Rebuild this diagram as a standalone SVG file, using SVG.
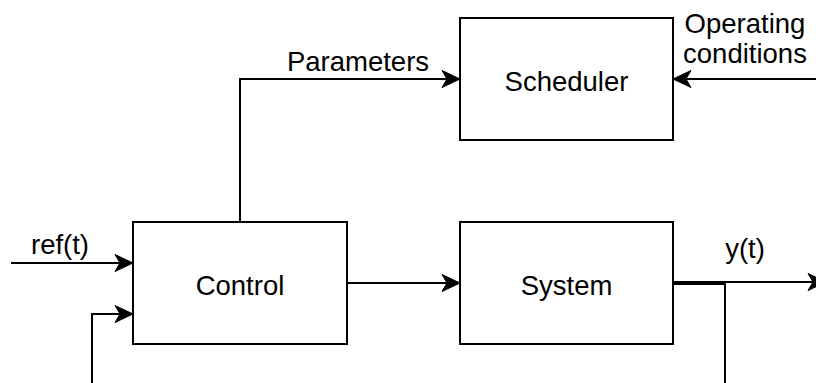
<svg xmlns="http://www.w3.org/2000/svg" width="816" height="383" viewBox="0 0 816 383">
  <style>
    .block { fill: #ffffff; stroke: #000000; stroke-width: 2; }
    .wire { fill: none; stroke: #000000; stroke-width: 2; }
    .label { font-family: "Liberation Sans", Arial, sans-serif; font-size: 27.5px; fill: #000000; }
    .mid { text-anchor: middle; }
  </style>
  <defs>
    <!-- classic arrowhead; tip sits 13px past the end of the wire -->
    <marker id="arrow" markerUnits="userSpaceOnUse" markerWidth="40" markerHeight="40"
            refX="0" refY="0" orient="auto" overflow="visible" viewBox="-20 -20 40 40">
      <path d="M13,0 L-5,-8.5 L0,0 L-5,8.5 Z" fill="#000000" stroke="#000000" stroke-width="1" stroke-linejoin="miter"/>
    </marker>
  </defs>

  <rect width="816" height="383" fill="#ffffff"/>

  <g id="connectors">
    <!-- reference input -->
    <path class="wire" d="M11,263 H120" marker-end="url(#arrow)"/>
    <!-- feedback from plant output back into the controller -->
    <path class="wire" d="M673,284 H725 V400 H92 V314 H120" marker-end="url(#arrow)"/>
    <!-- control signal to the plant -->
    <path class="wire" d="M347,283 H447" marker-end="url(#arrow)"/>
    <!-- controller parameters to the scheduler -->
    <path class="wire" d="M240,222 V79 H447" marker-end="url(#arrow)"/>
    <!-- operating conditions into the scheduler -->
    <path class="wire" d="M830,79 H686" marker-end="url(#arrow)"/>
    <!-- plant output -->
    <path class="wire" d="M673,282 H813" marker-end="url(#arrow)"/>
  </g>

  <g id="scheduler">
    <rect class="block" x="460" y="18" width="213" height="122"/>
    <text class="label mid" x="566.5" y="91">Scheduler</text>
  </g>

  <g id="control">
    <rect class="block" x="133" y="222" width="214" height="122"/>
    <text class="label mid" x="240" y="294.5">Control</text>
  </g>

  <g id="system">
    <rect class="block" x="460" y="222" width="213" height="122"/>
    <text class="label mid" x="566.5" y="294.5">System</text>
  </g>

  <g id="labels">
    <text class="label mid" x="358" y="71">Parameters</text>
    <text class="label mid" x="745" y="33">Operating</text>
    <text class="label mid" x="745" y="63">conditions</text>
    <text class="label mid" x="60" y="254">ref(t)</text>
    <text class="label mid" x="745" y="258">y(t)</text>
  </g>
</svg>
